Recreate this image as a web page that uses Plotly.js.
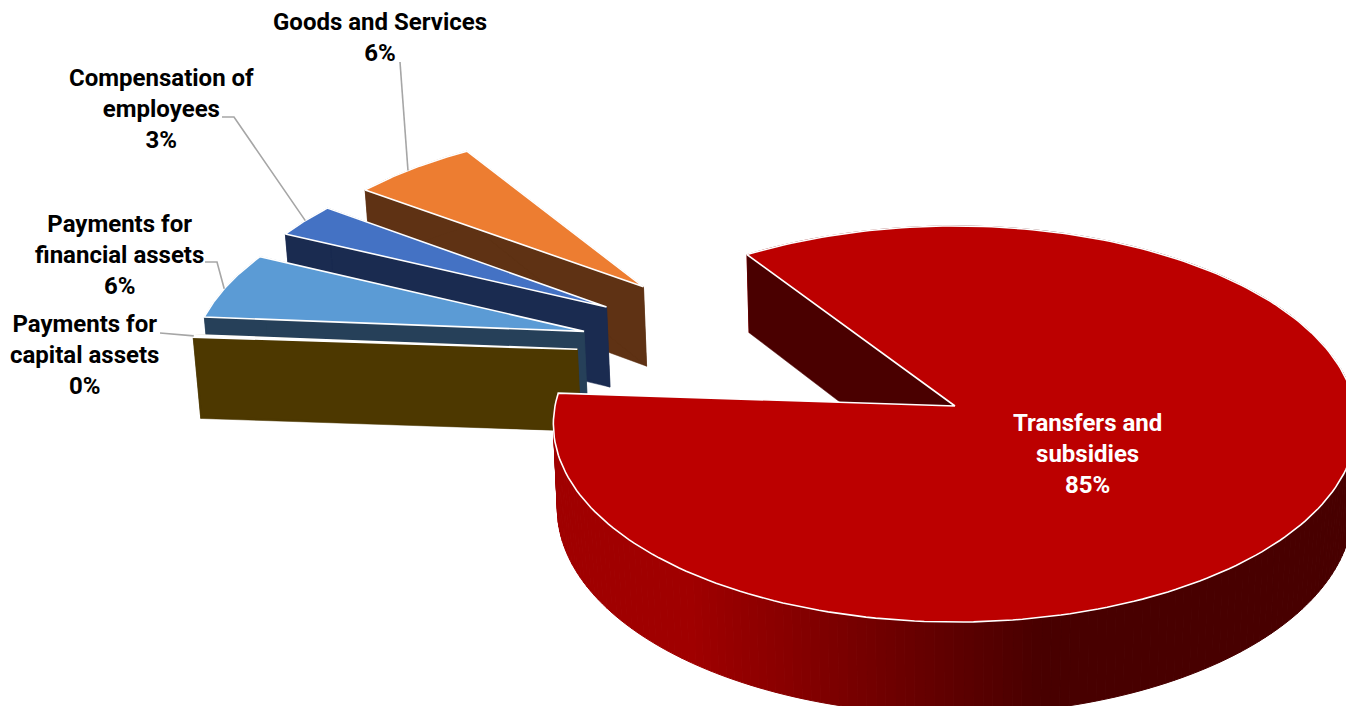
<!DOCTYPE html>
<html>
<head>
<meta charset="utf-8">
<script src="https://cdn.plot.ly/plotly-3.0.1.min.js"></script>
<style>html,body{margin:0;padding:0;background:#fff}#chart{width:1346px;height:706px}</style>
</head>
<body>
<div id="chart"></div>
<script>
// Budget shares, clockwise from the largest slice
const categories = ["Transfers and subsidies", "Payments for capital assets", "Payments for financial assets", "Compensation of employees", "Goods and Services"];
const shares = [85.49, 0.21, 5.7, 2.9, 5.7];
const labelLines = [["Transfers and", "subsidies"], ["Payments for", "capital assets"], ["Payments for", "financial assets"], ["Compensation of", "employees"], ["Goods and Services"]];
const topColors = ["#BC0000", "#FFFFFF", "#5B9BD5", "#4472C4", "#ED7D31"];
const wallColors = ["#4A0000", "#4D3800", "#264059", "#1A2B50", "#5F3214"];
const labelX = [1087, 84, 119, 161, 380];
const labelY = [454, 355, 255, 109, 37];
const labelColors = ["#FFFFFF", "#000000", "#000000", "#000000", "#000000"];
// Leader elbows next to each label, and where along the slice's rim the leader lands (0..1)
const leaderPaths = [null, [[160, 333]], [[205, 262], [217, 262]], [[222, 117], [234, 117]], [[400, 62]]];
const leaderRim = [null, 0.5, 0.45, 0.5, 0.45];
// How far each slice is pulled away from the pie's centre, in radii
const pulls = [0.52, 0.52, 0.527, 0.535, 0.535];

// Tilted-disc projection
const startAngle = 326, persp = 0.0909;
const semiX = 400, semiY = 196.4, depth = 84;
const anchorX = 955, anchorY = 406, wallSqueeze = 0.99;
const rad = d => d * Math.PI / 180;
const total = shares.reduce((a, b) => a + b, 0);

const spans = [];
let running = startAngle;
shares.forEach(s => { const sweep = s / total * 360; spans.push([running, running + sweep]); running += sweep; });
const direction = a => [Math.sin(rad(a)), -Math.cos(rad(a))];
const midAngle = i => (spans[i][0] + spans[i][1]) / 2;
const mainDir = direction(midAngle(0));

function project(u, v) {
  const a = u - pulls[0] * mainDir[0], b = v - pulls[0] * mainDir[1];
  const w = 1 - persp * b;
  return { x: anchorX + semiX * a / w, y: anchorY + semiY * b / w, w };
}
const lower = p => ({ x: anchorX + (p.x - anchorX) * wallSqueeze, y: p.y + depth / p.w });

function rimPoint(i, angle) {
  const off = direction(midAngle(i)), d = direction(angle);
  return project(pulls[i] * off[0] + d[0], pulls[i] * off[1] + d[1]);
}
function apex(i) {
  const off = direction(midAngle(i));
  return project(pulls[i] * off[0], pulls[i] * off[1]);
}
function rim(i, steps) {
  const pts = [];
  for (let k = 0; k <= steps; k++) pts.push(rimPoint(i, spans[i][0] + (spans[i][1] - spans[i][0]) * k / steps));
  return pts;
}

const traces = [];
function polygon(pts, fill, line, width) {
  traces.push({
    type: "scatter", mode: "lines", x: [...pts.map(p => p.x), pts[0].x], y: [...pts.map(p => p.y), pts[0].y],
    fill: "toself", fillcolor: fill, line: { color: line, width }, hoverinfo: "skip", showlegend: false
  });
}
// Side shading of the large slice, lighter at the left of the rim
function sideShade(x) {
  const t = Math.min(1, Math.max(0, (x - 690) / (1040 - 690)));
  const r = Math.round(160 + (72 - 160) * t);
  return `rgb(${r},0,0)`;
}

[4, 3, 2, 1, 0].forEach(i => {
  const steps = i === 0 ? 240 : 40;
  const arc = rim(i, steps), tip = apex(i);
  const cutWall = p => polygon([tip, p, lower(p), lower(tip)], wallColors[i], wallColors[i], 0.5);
  if (i === 0) {
    for (let k = 0; k < arc.length - 1; k++) {
      const c = sideShade((arc[k].x + arc[k + 1].x) / 2);
      polygon([arc[k], arc[k + 1], lower(arc[k + 1]), lower(arc[k])], c, c, 1);
    }
    cutWall(arc[0]);
  } else {
    cutWall(arc[0]);
    cutWall(arc[arc.length - 1]);
    polygon([...arc, ...arc.map(lower).reverse()], wallColors[i], wallColors[i], 0.5);
  }
  polygon([tip, ...arc], topColors[i], "#FFFFFF", 1.6);
});

// Leader lines
leaderPaths.forEach((path, i) => {
  if (!path) return;
  const end = rimPoint(i, spans[i][0] + (spans[i][1] - spans[i][0]) * leaderRim[i]);
  traces.push({
    type: "scatter", mode: "lines", x: [...path.map(p => p[0]), end.x], y: [...path.map(p => p[1]), end.y],
    line: { color: "#A6A6A6", width: 1.6 }, hoverinfo: "skip", showlegend: false
  });
});

const annotations = categories.map((c, i) => ({
  x: labelX[i], y: labelY[i], xref: "x", yref: "y", showarrow: false, align: "center",
  text: [...labelLines[i], Math.round(shares[i]) + "%"].join("<br>"),
  font: { family: "Roboto, sans-serif", size: 24, color: labelColors[i], weight: 700 }
}));

Plotly.newPlot("chart", traces, {
  width: 1346, height: 706, margin: { l: 0, r: 0, t: 0, b: 0 },
  paper_bgcolor: "#FFFFFF", plot_bgcolor: "#FFFFFF", showlegend: false,
  xaxis: { range: [0, 1346], visible: false, fixedrange: true },
  yaxis: { range: [706, 0], visible: false, fixedrange: true },
  annotations
}, { displayModeBar: false, staticPlot: true });
</script>
</body>
</html>
